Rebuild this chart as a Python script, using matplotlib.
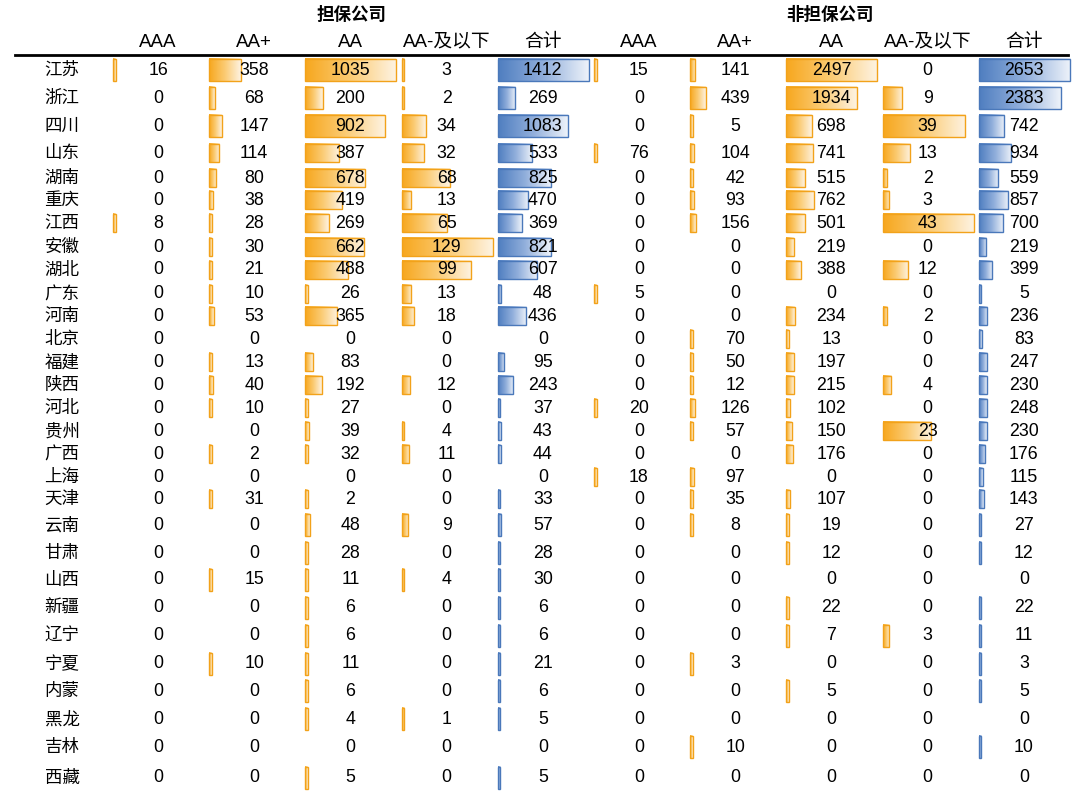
"""Provincial bond issuers by rating: guarantee vs non-guarantee companies, Excel-style data-bar table."""

import matplotlib.pyplot as plt
import numpy as np
from matplotlib.colors import LinearSegmentedColormap
from matplotlib.patches import Rectangle

plt.rcParams["font.family"] = ["Liberation Sans", "Noto Sans CJK SC", "DejaVu Sans"]

provinces = ["江苏", "浙江", "四川", "山东", "湖南", "重庆", "江西", "安徽", "湖北", "广东",
             "河南", "北京", "福建", "陕西", "河北", "贵州", "广西", "上海", "天津", "云南",
             "甘肃", "山西", "新疆", "辽宁", "宁夏", "内蒙", "黑龙", "吉林", "西藏"]
col_names = ["AAA", "AA+", "AA", "AA-及以下", "合计"]

# 担保公司
g_aaa = [16, 0, 0, 0, 0, 0, 8, 0, 0, 0, 0, 0, 0, 0, 0, 0, 0, 0, 0, 0, 0, 0, 0, 0, 0, 0, 0, 0, 0]
g_aap = [358, 68, 147, 114, 80, 38, 28, 30, 21, 10, 53, 0, 13, 40, 10, 0, 2, 0, 31, 0, 0, 15, 0, 0, 10, 0, 0, 0, 0]
g_aa = [1035, 200, 902, 387, 678, 419, 269, 662, 488, 26, 365, 0, 83, 192, 27, 39, 32, 0, 2, 48, 28, 11, 6, 6, 11, 6, 4, 0, 5]
g_aam = [3, 2, 34, 32, 68, 13, 65, 129, 99, 13, 18, 0, 0, 12, 0, 4, 11, 0, 0, 9, 0, 4, 0, 0, 0, 0, 1, 0, 0]
g_tot = [1412, 269, 1083, 533, 825, 470, 369, 821, 607, 48, 436, 0, 95, 243, 37, 43, 44, 0, 33, 57, 28, 30, 6, 6, 21, 6, 5, 0, 5]

# 非担保公司
n_aaa = [15, 0, 0, 76, 0, 0, 0, 0, 0, 5, 0, 0, 0, 0, 20, 0, 0, 18, 0, 0, 0, 0, 0, 0, 0, 0, 0, 0, 0]
n_aap = [141, 439, 5, 104, 42, 93, 156, 0, 0, 0, 0, 70, 50, 12, 126, 57, 0, 97, 35, 8, 0, 0, 0, 0, 3, 0, 0, 10, 0]
n_aa = [2497, 1934, 698, 741, 515, 762, 501, 219, 388, 0, 234, 13, 197, 215, 102, 150, 176, 0, 107, 19, 12, 0, 22, 7, 0, 5, 0, 0, 0]
n_aam = [0, 9, 39, 13, 2, 3, 43, 0, 12, 0, 2, 0, 0, 4, 0, 23, 0, 0, 0, 0, 0, 0, 0, 3, 0, 0, 0, 0, 0]
n_tot = [2653, 2383, 742, 934, 559, 857, 700, 219, 399, 5, 236, 83, 247, 230, 248, 230, 176, 115, 143, 27, 12, 0, 22, 11, 3, 5, 0, 10, 0]

columns = [g_aaa, g_aap, g_aa, g_aam, g_tot, n_aaa, n_aap, n_aa, n_aam, n_tot]
# value that fills a whole cell, per column (Excel bar ranges)
full_scale = [1035, 1035, 1035, 129, 1412, 2497, 2497, 2497, 43, 2653]

# layout (pixels)
W, H = 1080, 809
row_y = [70, 98, 126, 153, 178, 200, 223, 247, 270, 294, 316, 339, 362, 385, 408,
         431, 454, 477, 499, 525, 553, 580, 608, 636, 664, 691, 719, 747, 778]
cell_x0, cell_w = 113, 96.2
bar_max = 91
fs = 12.8

orange = LinearSegmentedColormap.from_list("o", ["#F7A71E", "#FBCB73", "#FEF3E2"])
blue = LinearSegmentedColormap.from_list("b", ["#4F7EC0", "#90AEDB", "#EEF3FA"])
grad = np.linspace(0, 1, 256).reshape(1, -1)

fig = plt.figure(figsize=(W / 100, H / 100), dpi=100)
ax = fig.add_axes([0, 0, 1, 1])
ax.set_xlim(0, W)
ax.set_ylim(H, 0)
ax.axis("off")

fig.text(352 / W, 1 - 14 / H, "担保公司", ha="center", va="center", fontsize=12.6, fontweight="bold")
fig.text(830 / W, 1 - 14 / H, "非担保公司", ha="center", va="center", fontsize=12.6, fontweight="bold")

for j, vals in enumerate(columns):
    left = cell_x0 + j * cell_w
    cx = left + 45
    ax.text(cx, 42, col_names[j % 5], ha="center", va="center", fontsize=13.5)
    cmap = blue if j % 5 == 4 else orange
    edge = "#4A78BA" if j % 5 == 4 else "#F2A21A"
    for i, v in enumerate(vals):
        y = row_y[i]
        gap = 28 if i in (0, 1, 2) or i >= 19 else 23
        bh = gap * 0.8
        if v > 0:
            L = max(v / full_scale[j] * bar_max, 2.5)
            ax.imshow(grad, cmap=cmap, aspect="auto", interpolation="bilinear",
                      extent=[left, left + L, y + bh / 2, y - bh / 2], zorder=1)
            ax.add_patch(Rectangle((left, y - bh / 2), L, bh, fill=False,
                                   edgecolor=edge, linewidth=1.0, zorder=2))
        ax.text(cx, y, str(v), ha="center", va="center", fontsize=fs, zorder=3)

for i, p in enumerate(provinces):
    ax.text(62, row_y[i], p, ha="center", va="center", fontsize=12.6)

ax.plot([15, 1068], [55, 55], color="black", linewidth=2)
ax.set_xlim(0, W)
ax.set_ylim(H, 0)

fig.savefig("out.png", dpi=100)
